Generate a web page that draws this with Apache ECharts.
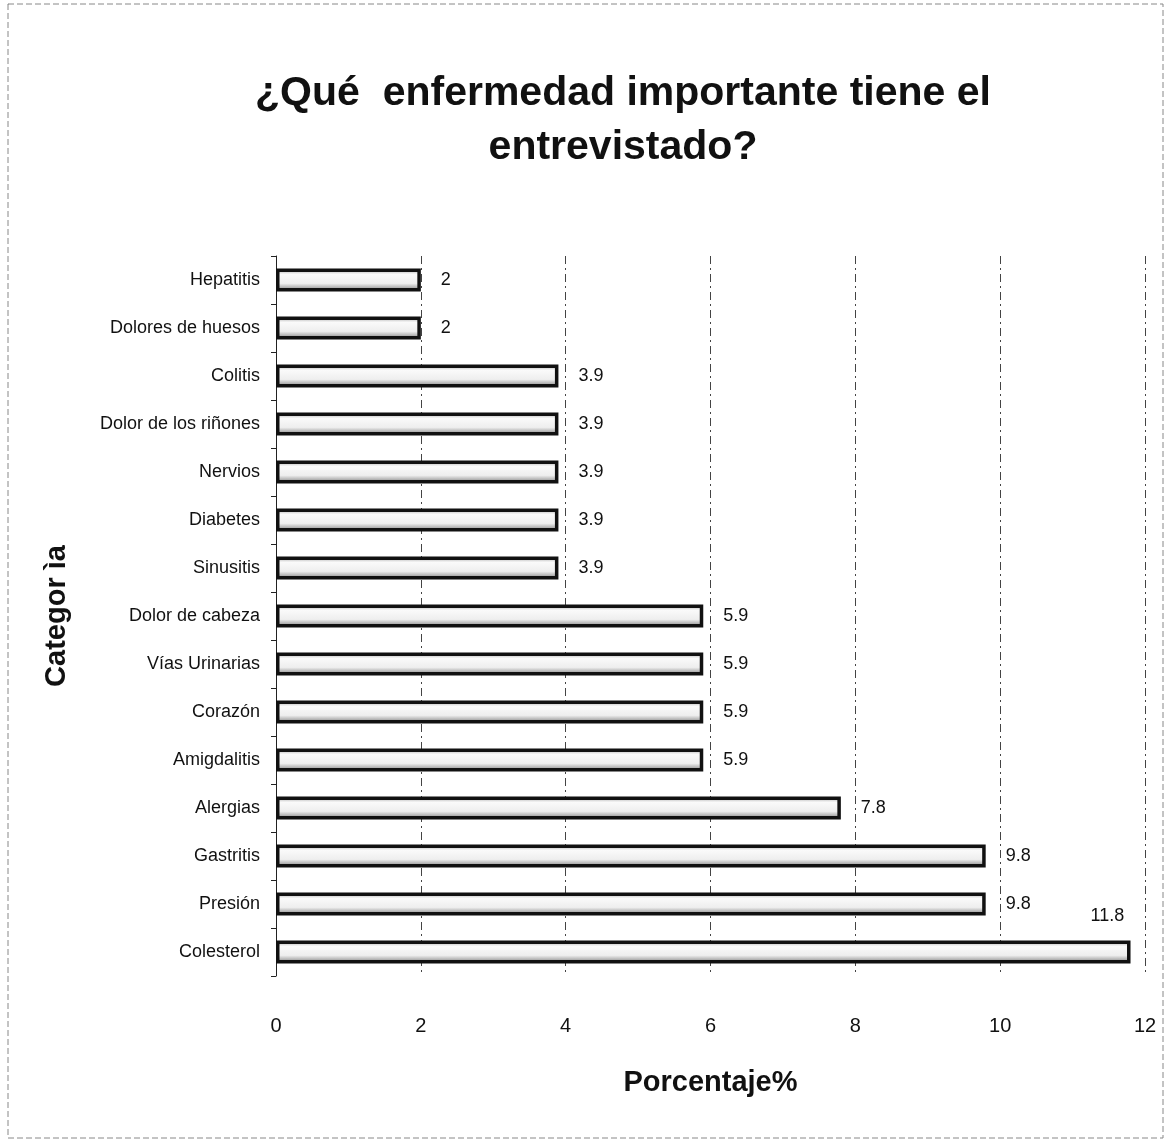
<!DOCTYPE html>
<html><head><meta charset="utf-8">
<script src="https://cdn.jsdelivr.net/npm/echarts@6/dist/echarts.min.js"></script>
<style>html,body{margin:0;padding:0;background:#fff}#c{width:1165px;height:1145px}</style>
</head><body><div id="c"></div>
<script>
const categories = ["Hepatitis","Dolores de huesos","Colitis","Dolor de los riñones","Nervios","Diabetes","Sinusitis","Dolor de cabeza","Vías Urinarias","Corazón","Amigdalitis","Alergias","Gastritis","Presión","Colesterol"];
const values = [2,2,3.9,3.9,3.9,3.9,3.9,5.9,5.9,5.9,5.9,7.8,9.8,9.8,11.8];
const xTicks = [0,2,4,6,8,10,12];

const chart = echarts.init(document.getElementById('c'));
const data = values.map((v,i)=> i===values.length-1 ? {value:v,label:{position:'right',distance:0,offset:[-40,-36]}} : v);
chart.setOption({
  animation:false,
  backgroundColor:'#fff',
  graphic:[{type:'rect',shape:{x:8,y:4,width:1155,height:1134},style:{fill:'none',stroke:'#888',lineWidth:1,lineDash:[6,3]}}],
  title:{text:'¿Qué  enfermedad importante tiene el\nentrevistado?',left:618,textAlign:'center',top:62,
    textStyle:{fontFamily:'Liberation Sans',fontWeight:'bold',fontSize:41,lineHeight:54,color:'#111'}},
  grid:{left:276,right:20,top:256,height:720},
  xAxis:{type:'value',min:0,max:12,interval:2,
    name:'Porcentaje%',nameLocation:'middle',nameGap:92,
    nameTextStyle:{fontFamily:'Liberation Sans',fontWeight:'bold',fontSize:29,color:'#111'},
    axisLine:{show:false},axisTick:{show:false},
    axisLabel:{fontFamily:'Liberation Sans',fontSize:20,color:'#111',margin:40},
    splitLine:{show:true,lineStyle:{color:'#444',type:[8,4,2,4],width:1}}},
  yAxis:{type:'category',data:categories,inverse:true,
    name:'Categor ìa',nameLocation:'middle',nameGap:205,nameRotate:90,
    nameTextStyle:{fontFamily:'Liberation Sans',fontWeight:'bold',fontSize:29,color:'#111'},
    axisLine:{show:true,lineStyle:{color:'#222',width:1}},
    axisTick:{show:true,length:5,lineStyle:{color:'#222'}},
    axisLabel:{fontFamily:'Liberation Sans',fontSize:18,color:'#111',margin:16}},
  series:[{type:'bar',data:data,barWidth:23,
    itemStyle:{color:{type:'linear',x:0,y:0,x2:0,y2:1,colorStops:[{offset:0,color:'#999'},{offset:0.25,color:'#fafafa'},{offset:0.65,color:'#eee'},{offset:1,color:'#777'}]},
      borderColor:'#111',borderWidth:3.5},
    label:{show:true,position:'right',distance:20,fontFamily:'Liberation Sans',fontSize:18,color:'#111'}}]
});
</script></body></html>
